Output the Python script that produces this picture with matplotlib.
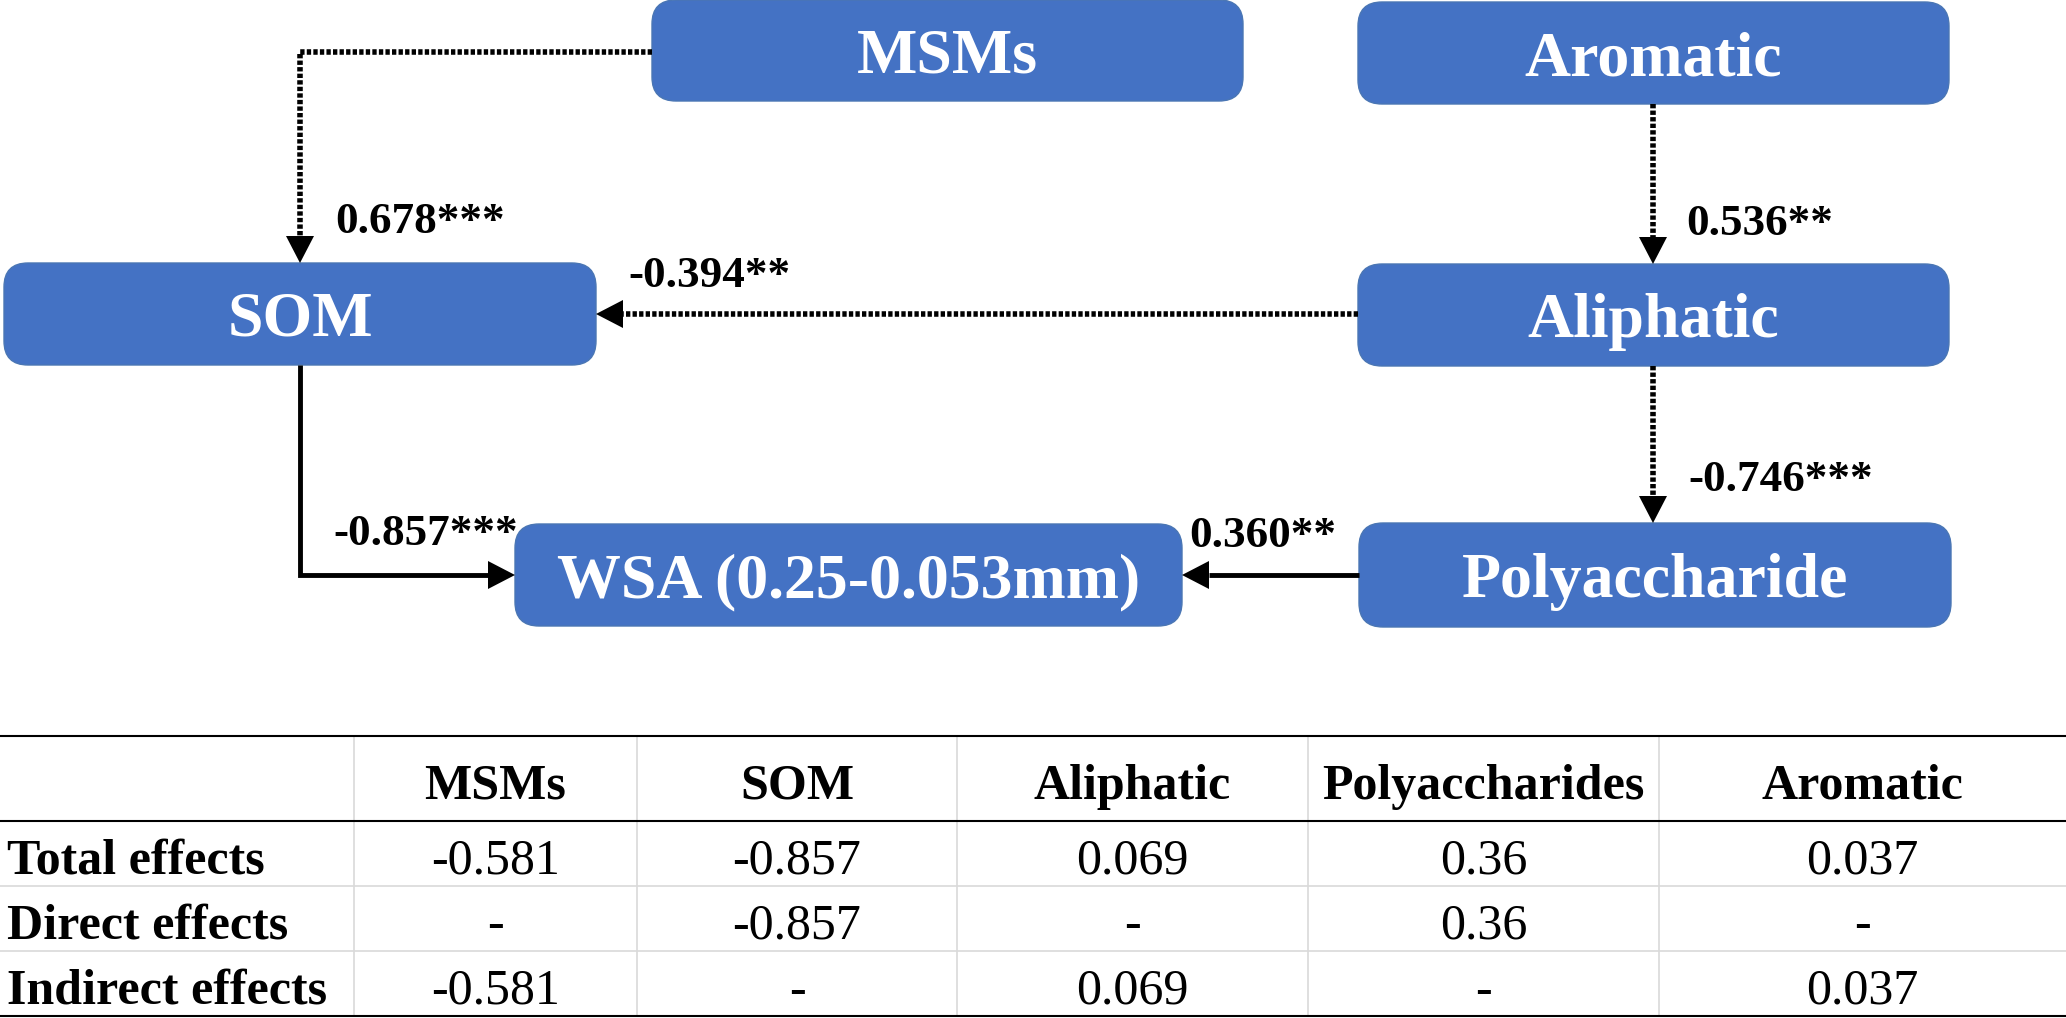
import numpy as np
import matplotlib
matplotlib.use('Agg')
import matplotlib.pyplot as plt
from matplotlib.patches import FancyBboxPatch, Polygon

plt.rcParams['font.family'] = ['Liberation Serif', 'DejaVu Serif']

# path model: nodes, edges and path coefficients
nodes = ['MSMs', 'Aromatic', 'SOM', 'Aliphatic', 'WSA (0.25-0.053mm)', 'Polyaccharide']
edge_src = ['MSMs', 'Aromatic', 'Aliphatic', 'Aliphatic', 'SOM', 'Polyaccharide']
edge_dst = ['SOM', 'Aliphatic', 'SOM', 'Polyaccharide', 'WSA (0.25-0.053mm)', 'WSA (0.25-0.053mm)']
coefs = ['0.678***', '0.536**', '-0.394**', '-0.746***', '-0.857***', '0.360**']
is_direct = [False, False, False, False, True, True]

# effects table
table_cols = ['MSMs', 'SOM', 'Aliphatic', 'Polyaccharides', 'Aromatic']
table_rows = ['Total effects', 'Direct effects', 'Indirect effects']
total_eff = ['-0.581', '-0.857', '0.069', '0.36', '0.037']
direct_eff = ['-', '-0.857', '-', '0.36', '-']
indirect_eff = ['-0.581', '-', '0.069', '-', '0.037']

# layout (pixel space of a 2066x1018 canvas)
W, H = 2066, 1018
box = {
    'MSMs': (652, 0, 1243, 101),
    'Aromatic': (1358, 2, 1949, 104),
    'SOM': (4, 263, 596, 365),
    'Aliphatic': (1358, 264, 1949, 366),
    'WSA (0.25-0.053mm)': (515, 524, 1182, 626),
    'Polyaccharide': (1359, 523, 1951, 627),
}
routes = [
    [(652, 52), (300, 52), (300, 263)],
    [(1653, 104), (1653, 264)],
    [(1358, 314), (596, 314)],
    [(1653, 366), (1653, 523)],
    [(300, 365), (300, 575), (515, 575)],
    [(1359, 575), (1182, 575)],
]
label_pos = [(335, 233), (1686, 235), (628, 287), (1688, 491), (333, 545), (1189, 547)]

blue = '#4472C4'

fig = plt.figure(figsize=(W / 100, H / 100), dpi=100)
ax = fig.add_axes([0, 0, 1, 1])
ax.set_xlim(0, W)
ax.set_ylim(H, 0)
ax.axis('off')

for name in nodes:
    x0, y0, x1, y1 = box[name]
    ax.add_patch(FancyBboxPatch((x0, y0), x1 - x0, y1 - y0,
                                boxstyle='round,pad=0,rounding_size=24',
                                fc=blue, ec='#4a76b4', lw=1))
    ax.text((x0 + x1) / 2, (y0 + y1) / 2 + 22, name, color='white', fontsize=46,
            fontweight='bold', ha='center', va='baseline')


def arrow(pts, solid):
    pts = np.array(pts, float)
    tip = pts[-1]
    d = tip - pts[-2]
    d = d / np.linalg.norm(d)
    n = np.array([-d[1], d[0]])
    base = tip - d * 27
    line = np.vstack([pts[:-1], base])
    if solid:
        ax.plot(line[:, 0], line[:, 1], color='black', lw=3.5,
                solid_capstyle='butt', solid_joinstyle='miter')
    else:
        ax.plot(line[:, 0], line[:, 1], color='black', lw=4, ls=(0, (0.78, 0.4)),
                dash_capstyle='butt', dash_joinstyle='miter')
    ax.add_patch(Polygon([tip, base + n * 14, base - n * 14], closed=True,
                         fc='black', ec='none'))


for i in range(len(coefs)):
    arrow(routes[i], is_direct[i])
    ax.text(label_pos[i][0], label_pos[i][1], coefs[i], fontsize=32.5,
            fontweight='bold', ha='left', va='baseline')

# table
col_edges = [0, 354, 637, 957, 1308, 1659, W]
row_edges = [736, 821, 886, 951, 1016]
grey = '#d9d9d9'
for x in col_edges[1:-1]:
    ax.plot([x, x], [row_edges[0], row_edges[-1]], color=grey, lw=1.2)
for y in row_edges[2:4]:
    ax.plot([0, W], [y, y], color=grey, lw=1.2)
for y in [row_edges[0], row_edges[1], row_edges[-1]]:
    ax.plot([0, W], [y, y], color='black', lw=1.5)

hy = (row_edges[0] + row_edges[1]) / 2 + 20
for j, c in enumerate(table_cols):
    cx = (col_edges[j + 1] + col_edges[j + 2]) / 2
    ax.text(cx, hy, c, fontsize=36, fontweight='bold', ha='center', va='baseline')

for i, (lab, vals) in enumerate(zip(table_rows, [total_eff, direct_eff, indirect_eff])):
    ry = (row_edges[i + 1] + row_edges[i + 2]) / 2 + 20
    ax.text(7, ry, lab, fontsize=36, fontweight='bold', ha='left', va='baseline')
    for j, v in enumerate(vals):
        cx = (col_edges[j + 1] + col_edges[j + 2]) / 2
        ax.text(cx, ry, v, fontsize=36, ha='center', va='baseline')

fig.savefig('out.png', dpi=100)
